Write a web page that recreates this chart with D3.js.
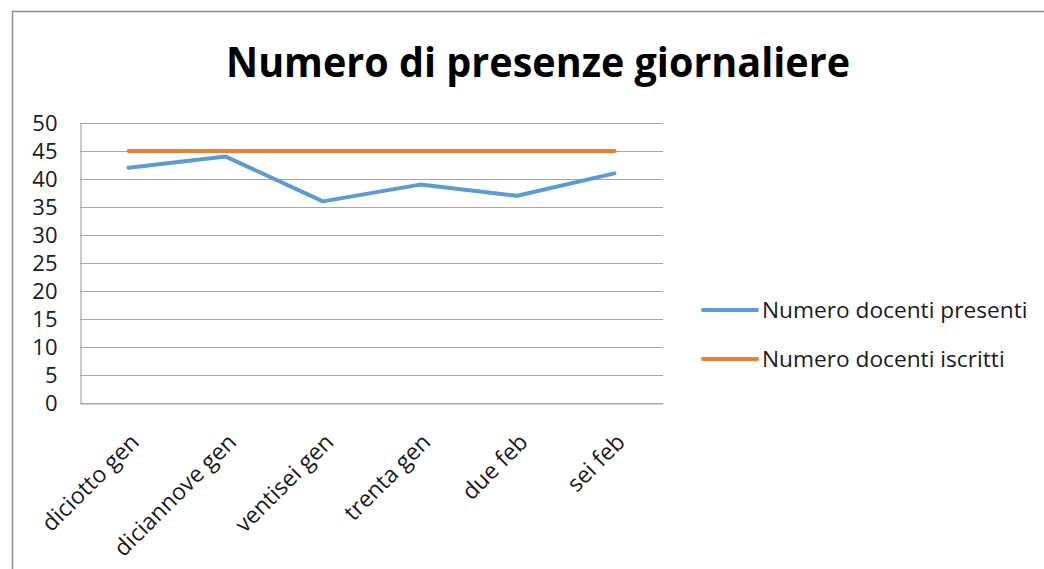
<!DOCTYPE html>
<html>
<head>
<meta charset="utf-8">
<script src="https://cdn.jsdelivr.net/npm/d3@7"></script>
<style>
  body { margin: 0; background: #fff; }
  svg { display: block; }
</style>
</head>
<body>
<div id="chart"></div>
<script>
const categories = ["diciotto gen", "diciannove gen", "ventisei gen", "trenta gen", "due feb", "sei feb"];
const presenti = [42, 44, 36, 39, 37, 41];
const iscritti = [45, 45, 45, 45, 45, 45];
const seriesNames = ["Numero docenti presenti", "Numero docenti iscritti"];
const seriesColors = ["#5B9BD5", "#ED7D31"];
const yTicks = [0, 5, 10, 15, 20, 25, 30, 35, 40, 45, 50];

const width = 1044;
const height = 569;
const margin = { top: 123, right: 381, bottom: 166, left: 80 };
const plotW = width - margin.left - margin.right;
const plotH = height - margin.top - margin.bottom;
const font = "'Open Sans', Lato, sans-serif";

const svg = d3.select("#chart")
    .append("svg")
    .attr("width", width)
    .attr("height", height);

// chart frame
svg.append("path")
    .attr("d", "M12.5," + height + " L12.5,11.5 L" + width + ",11.5")
    .attr("fill", "none")
    .attr("stroke", "#8c8c8c")
    .attr("stroke-width", 1.5);

svg.append("text")
    .text("Numero di presenze giornaliere")
    .attr("x", 226)
    .attr("y", 77)
    .attr("textLength", 624)
    .attr("lengthAdjust", "spacingAndGlyphs")
    .attr("font-family", font)
    .attr("font-weight", "bold")
    .attr("font-size", 41)
    .attr("fill", "#000");

const g = svg.append("g")
    .attr("transform", "translate(" + margin.left + "," + margin.top + ")");

const x = d3.scaleBand()
    .domain(categories)
    .range([0, plotW]);

const y = d3.scaleLinear()
    .domain([0, 50])
    .range([plotH, 0]);

// gridlines
g.append("g")
    .attr("class", "grid")
    .selectAll("line")
    .data(yTicks)
    .join("line")
    .attr("x1", 0)
    .attr("x2", plotW)
    .attr("y1", d => Math.round(y(d)) + 0.5)
    .attr("y2", d => Math.round(y(d)) + 0.5)
    .attr("stroke", "#a6a6a6")
    .attr("stroke-width", 1.2);

// y axis
const yAxis = d3.axisLeft(y)
    .tickValues(yTicks)
    .tickSize(0)
    .tickPadding(23);

g.append("g")
    .attr("class", "yAxis")
    .attr("transform", "translate(0.5,0)")
    .call(yAxis)
    .call(s => s.select(".domain").attr("stroke", "#a6a6a6").attr("stroke-width", 1.2))
    .selectAll("text")
    .attr("font-family", font)
    .attr("font-size", 22)
    .attr("fill", "#1a1a1a");

// x axis
const xAxis = d3.axisBottom(x).tickSize(0).tickSizeOuter(0);

g.append("g")
    .attr("class", "xAxis")
    .attr("transform", "translate(0," + (plotH + 0.5) + ")")
    .call(xAxis)
    .call(s => s.select(".domain").attr("stroke", "#a6a6a6").attr("stroke-width", 1.2))
    .selectAll("text")
    .attr("font-family", font)
    .attr("font-size", 23)
    .attr("fill", "#1a1a1a")
    .attr("text-anchor", "end")
    .attr("y", 0)
    .attr("dy", 0)
    .attr("transform", "translate(12,40) rotate(-45)");

// lines
const line = d3.line()
    .x((d, i) => x(categories[i]) + x.bandwidth() / 2)
    .y(d => y(d));

const series = [presenti, iscritti];

g.append("g")
    .selectAll("path")
    .data(series)
    .join("path")
    .attr("d", d => line(d))
    .attr("fill", "none")
    .attr("stroke", (d, i) => seriesColors[i])
    .attr("stroke-width", 4)
    .attr("stroke-linecap", "round")
    .attr("stroke-linejoin", "round");

// legend
const legend = svg.append("g")
    .attr("class", "legend")
    .selectAll("g")
    .data(seriesNames)
    .join("g")
    .attr("transform", (d, i) => "translate(703," + (310 + i * 49) + ")");

legend.append("line")
    .attr("x1", 0)
    .attr("x2", 54)
    .attr("stroke", (d, i) => seriesColors[i])
    .attr("stroke-width", 4)
    .attr("stroke-linecap", "round");

legend.append("text")
    .text(d => d)
    .attr("x", 59)
    .attr("y", 0)
    .attr("dy", "0.35em")
    .attr("font-family", font)
    .attr("font-size", 22.7)
    .attr("fill", "#1a1a1a");
</script>
</body>
</html>
